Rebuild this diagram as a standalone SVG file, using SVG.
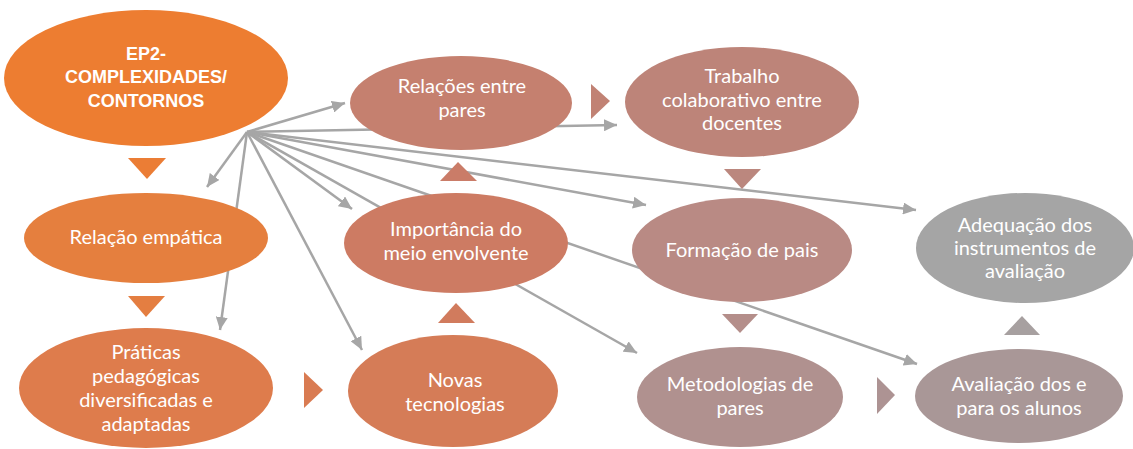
<svg xmlns="http://www.w3.org/2000/svg" width="1133" height="449" viewBox="0 0 1133 449">
<style>
.c line{stroke:#A6A6A6;stroke-width:2.5;fill:none}
.t{font-family:Lato,"Liberation Sans",sans-serif;font-size:20px;fill:#FFFFFF;text-anchor:middle}
.b{font-family:"Liberation Sans",Arial,sans-serif;font-size:18px;font-weight:bold;fill:#FFFFFF;text-anchor:middle}
</style>
<defs>
<marker id="ah" markerUnits="userSpaceOnUse" markerWidth="14" markerHeight="12" refX="13" refY="6" orient="auto">
<path d="M0,0 L13,6 L0,12 z" fill="#A6A6A6"/>
</marker>
</defs>
<rect width="1133" height="449" fill="#FFFFFF"/>
<g class="c" id="connectors">
<line x1="247" y1="132" x2="345" y2="103" marker-end="url(#ah)"/>
<line x1="247" y1="132" x2="207" y2="187" marker-end="url(#ah)"/>
<line x1="247" y1="132" x2="220" y2="330" marker-end="url(#ah)"/>
<line x1="247" y1="132" x2="362" y2="350" marker-end="url(#ah)"/>
<line x1="247" y1="132" x2="352" y2="209" marker-end="url(#ah)"/>
<line x1="247" y1="132" x2="637" y2="353" marker-end="url(#ah)"/>
<line x1="247" y1="132" x2="917" y2="364" marker-end="url(#ah)"/>
<line x1="247" y1="132" x2="646" y2="205" marker-end="url(#ah)"/>
<line x1="247" y1="132" x2="916" y2="210" marker-end="url(#ah)"/>
<line x1="247" y1="132" x2="617" y2="125" marker-end="url(#ah)"/>
</g>
<g id="flow-arrows">
<polygon points="128,158 166,158 147,179" fill="#EB7D35"/>
<polygon points="128,296 165,296 146,317" fill="#E47E41"/>
<polygon points="304,372 323,390 304,408" fill="#D97B52"/>
<polygon points="438,323 475,323 456,303" fill="#D17B5D"/>
<polygon points="440,181 477,181 458,162" fill="#CA7C68"/>
<polygon points="591,84 610,101 591,119" fill="#C18274"/>
<polygon points="724,169 761,169 742,189" fill="#BB877E"/>
<polygon points="722,314 758,314 740,333" fill="#B48E8A"/>
<polygon points="877,377 895,395 877,414" fill="#AD9393"/>
<polygon points="1004,335 1040,335 1022,316" fill="#A7A0A0"/>
</g>
<g id="n-ep2">
<ellipse cx="146" cy="78" rx="142" ry="68" fill="#ED7D31"/>
<text class="b" x="146" y="60">EP2-</text>
<text class="b" x="146" y="83">COMPLEXIDADES/</text>
<text class="b" x="146" y="107">CONTORNOS</text>
</g>
<g id="n-relacao-empatica">
<ellipse cx="146" cy="238" rx="122" ry="45" fill="#E57F3E"/>
<text class="t" x="146" y="244">Relação empática</text>
</g>
<g id="n-praticas">
<ellipse cx="146" cy="388" rx="127" ry="60" fill="#DE7C4C"/>
<text class="t" x="146" y="359">Práticas</text>
<text class="t" x="146" y="383">pedagógicas</text>
<text class="t" x="146" y="407">diversificadas e</text>
<text class="t" x="146" y="431">adaptadas</text>
</g>
<g id="n-novas">
<ellipse cx="453" cy="391" rx="105" ry="56" fill="#D57C57"/>
<text class="t" x="455" y="387">Novas</text>
<text class="t" x="455" y="411">tecnologias</text>
</g>
<g id="n-importancia">
<ellipse cx="456" cy="243" rx="112" ry="50" fill="#CD7B63"/>
<text class="t" x="456" y="236">Importância do</text>
<text class="t" x="456" y="260">meio envolvente</text>
</g>
<g id="n-relacoes">
<ellipse cx="461" cy="103" rx="111" ry="47" fill="#C5806F"/>
<text class="t" x="462" y="93">Relações entre</text>
<text class="t" x="462" y="117">pares</text>
</g>
<g id="n-trabalho">
<ellipse cx="742" cy="102" rx="117" ry="55" fill="#BD8479"/>
<text class="t" x="742" y="83">Trabalho</text>
<text class="t" x="742" y="107">colaborativo entre</text>
<text class="t" x="742" y="130">docentes</text>
</g>
<g id="n-formacao">
<ellipse cx="742" cy="250" rx="110" ry="52" fill="#B98A84"/>
<text class="t" x="742" y="257">Formação de pais</text>
</g>
<g id="n-metodologias">
<ellipse cx="740" cy="397" rx="103" ry="50" fill="#B0918F"/>
<text class="t" x="740" y="391">Metodologias de</text>
<text class="t" x="740" y="415">pares</text>
</g>
<g id="n-avaliacao">
<ellipse cx="1019" cy="396" rx="104" ry="47" fill="#A99797"/>
<text class="t" x="1019" y="391">Avaliação dos e</text>
<text class="t" x="1019" y="415">para os alunos</text>
</g>
<g id="n-adequacao">
<ellipse cx="1025" cy="248" rx="109" ry="55" fill="#A5A5A5"/>
<text class="t" x="1025" y="232">Adequação dos</text>
<text class="t" x="1025" y="255">instrumentos de</text>
<text class="t" x="1025" y="278">avaliação</text>
</g>
</svg>
